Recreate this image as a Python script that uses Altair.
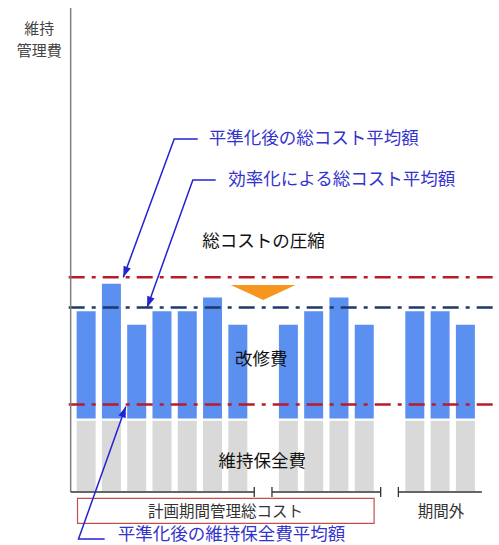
import math
import altair as alt
import pandas as pd

# ---------------- data ----------------
slots = [0, 1, 2, 3, 4, 5, 6, 8, 9, 10, 11, 13, 14, 15]
maintenance = [53] * 14
repair = [80, 100, 70, 80, 80, 90, 70, 70, 80, 90, 70, 80, 80, 70]

avg_names = ["平準化後の総コスト平均額", "効率化による総コスト平均額", "平準化後の維持保全費平均額"]
avg_levels = [157, 135, 64]
avg_colors = ["#b81c2b", "#1f3a68", "#b81c2b"]

# ---------------- layout (data units) ----------------
X_DOM = [-3.209, 16.132]
Y_DOM = [-38.77, 359.9]
W, H = 499, 545
PX_X = W / (X_DOM[1] - X_DOM[0])
PX_Y = H / (Y_DOM[1] - Y_DOM[0])
FONT = "Noto Sans CJK JP"

xs = alt.Scale(domain=X_DOM, nice=False, zero=False)
ys = alt.Scale(domain=Y_DOM, nice=False, zero=False)


def X(f):
    return alt.X(f, type="quantitative", scale=xs, axis=None)


def Y(f):
    return alt.Y(f, type="quantitative", scale=ys, axis=None)


bars_df = pd.DataFrame({"slot": slots, "maint": maintenance, "repair": repair})

gray = alt.Chart(bars_df).transform_calculate(base="0").mark_bar(
    size=21, orient="vertical", color="#d9d9d9", stroke="white", strokeWidth=2
).encode(x=X("slot"), y=Y("base"), y2="maint:Q")

blue = alt.Chart(bars_df).transform_calculate(top="datum.maint + datum.repair").mark_bar(
    size=21, orient="vertical", color="#5b8ff0", stroke="white", strokeWidth=2
).encode(x=X("slot"), y=Y("maint"), y2="top:Q")

# average lines
LINE_LEFT = -0.69
avg_df = pd.DataFrame({"name": avg_names, "level": avg_levels, "color": avg_colors,
                       "x0": [LINE_LEFT] * 3, "x1": [X_DOM[1]] * 3})
avg_rules = alt.Chart(avg_df).mark_rule(strokeWidth=2.5, strokeDash=[16, 7, 4, 7]).encode(
    x=X("x0"), x2="x1:Q", y=Y("level"), color=alt.Color("color:N", scale=None)
)

# compression triangle (between the two total-cost averages, above the gap slot)
tri_df = pd.DataFrame({"x": [7], "y": [(avg_levels[0] + avg_levels[1]) / 2]})
triangle = alt.Chart(tri_df).mark_point(
    shape="M-1,-0.23L1,-0.23L0,0.23Z", size=4225, filled=True, opacity=1, color="#f7961e"
).encode(x=X("x"), y=Y("y"))

# y axis line
axis_df = pd.DataFrame({"x": [-0.612], "y0": [0], "y1": [354]})
y_axis = alt.Chart(axis_df).mark_rule(color="#808080", strokeWidth=1.5).encode(
    x=X("x"), y=Y("y0"), y2="y1:Q"
)

# bottom brackets
seg_df = pd.DataFrame({"x0": [-0.612, 7.35, 12.35], "x1": [6.65, 11.65, 15.65], "y": [0, 0, 0]})
segs = alt.Chart(seg_df).mark_rule(color="#333333", strokeWidth=1.3).encode(
    x=X("x0"), x2="x1:Q", y=Y("y")
)
tick_df = pd.DataFrame({"x": [6.65, 7.35, 11.65, 12.35], "y0": [-3.7] * 4, "y1": [3.7] * 4})
ticks = alt.Chart(tick_df).mark_rule(color="#333333", strokeWidth=1.3).encode(
    x=X("x"), y=Y("y0"), y2="y1:Q"
)

# red box around planning period label
box_df = pd.DataFrame({"x0": [-0.341], "x1": [11.39], "y0": [-4.6], "y1": [-22.9]})
box = alt.Chart(box_df).mark_rect(fillOpacity=0, stroke="#c0504d", strokeWidth=1.2).encode(
    x=X("x0"), x2="x1:Q", y=Y("y0"), y2="y1:Q"
)

# texts
center_df = pd.DataFrame({
    "text": ["総コストの圧縮", "改修費", "維持保全費", "計画期間管理総コスト", "期間外", "維持", "管理費"],
    "x": [7.02, 6.93, 6.965, 5.51, 14.04, -1.853, -1.853],
    "y": [183, 96.6, 22.2, -14.4, -14.4, 338.5, 322.5],
    "fs": [17.5, 17.5, 17.5, 15.5, 15.5, 15, 15],
    "color": ["#111111", "#111111", "#111111", "#333333", "#333333", "#444444", "#444444"],
})
center_text = alt.Chart(center_df).mark_text(align="center", baseline="middle", font=FONT).encode(
    x=X("x"), y=Y("y"), text="text:N",
    size=alt.Size("fs:Q", scale=None), color=alt.Color("color:N", scale=None)
)

# annotations: label + leader polyline + arrowhead
ann_lines = [
    [(4.415, 258.2), (3.484, 258.2), (1.469, avg_levels[0])],
    [(5.124, 228.2), (4.221, 228.2), (2.411, avg_levels[1])],
    [(0.733, -34.4), (-0.302, -34.4), (1.57, avg_levels[2] - 1.5)],
]
ann_label_pos = [(4.85, 258.5), (5.624, 228.2), (1.248, -31.5)]
BLUE = "#2323d2"

label_df = pd.DataFrame({"text": avg_names,
                         "x": [p[0] for p in ann_label_pos],
                         "y": [p[1] for p in ann_label_pos]})
labels = alt.Chart(label_df).mark_text(align="left", baseline="middle", font=FONT,
                                       fontSize=17.5, color="#3434cc").encode(
    x=X("x"), y=Y("y"), text="text:N"
)

rows = []
heads = []
for gi, pts in enumerate(ann_lines):
    for oi, (px, py) in enumerate(pts):
        rows.append({"g": gi, "o": oi, "x": px, "y": py})
    (x1, y1), (x2, y2) = pts[-2], pts[-1]
    dx = (x2 - x1) * PX_X
    dy = -(y2 - y1) * PX_Y
    ang = math.degrees(math.atan2(dx, -dy)) % 360
    heads.append({"x": x2, "y": y2, "ang": ang})

leaders = alt.Chart(pd.DataFrame(rows)).mark_line(color=BLUE, strokeWidth=1.5).encode(
    x=X("x"), y=Y("y"), detail="g:N", order="o:Q"
)
arrowheads = alt.Chart(pd.DataFrame(heads)).mark_point(
    shape="M0,0L-0.7,2L0.7,2Z", size=121, filled=True, opacity=1, color=BLUE
).encode(x=X("x"), y=Y("y"), angle=alt.Angle("ang:Q", scale=None))

chart = alt.layer(
    gray, blue, avg_rules, triangle, y_axis, segs, ticks, box,
    center_text, labels, leaders, arrowheads
).properties(
    width=W, height=H, autosize=alt.AutoSizeParams(type="none"), padding=0, background="white"
).configure_view(strokeWidth=0)

chart.save("out.html", embed_options={"renderer": "svg", "actions": False})
